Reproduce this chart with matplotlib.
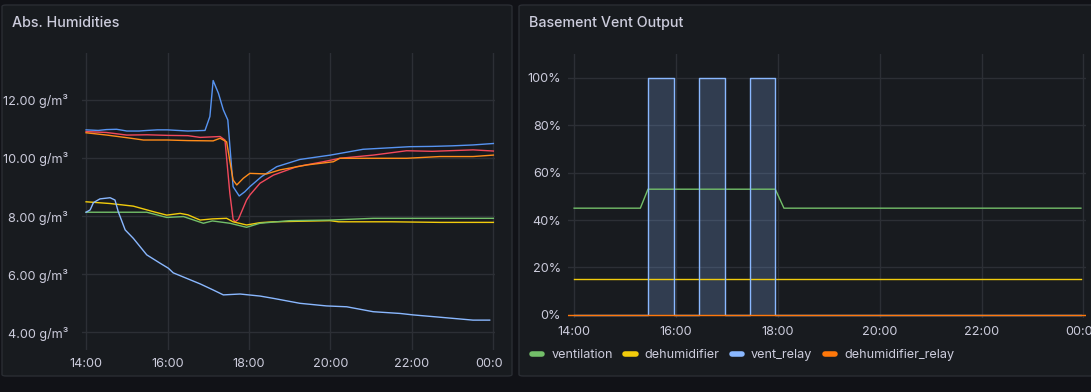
import matplotlib
matplotlib.use('Agg')
import matplotlib.pyplot as plt
from matplotlib.patches import FancyBboxPatch, Rectangle
from matplotlib.lines import Line2D

plt.rcParams['font.family'] = ['Inter', 'DejaVu Sans']

# ---- data (time in hours, 24 = midnight) ----
x_ticks = [14, 16, 18, 20, 22, 24]
x_labels = ['14:00', '16:00', '18:00', '20:00', '22:00', '00:00']

hum_y_ticks = [4, 6, 8, 10, 12]
hum_y_labels = ['4.00 g/m³', '6.00 g/m³', '8.00 g/m³', '10.00 g/m³', '12.00 g/m³']

blue_t = [14.0, 14.3, 14.5, 14.75, 15.0, 15.3, 15.5, 15.75, 16.0, 16.25, 16.5, 16.92, 17.04, 17.12,
          17.25, 17.37, 17.48, 17.61, 17.76, 17.9, 18.02, 18.31, 18.68, 19.25, 20.0, 20.8, 21.95,
          22.5, 23.0, 23.5, 24.0]
blue_v = [10.97, 10.95, 10.98, 10.99, 10.93, 10.93, 10.95, 10.97, 10.97, 10.95, 10.93, 10.95, 11.43,
          12.67, 12.23, 11.66, 11.31, 9.01, 8.69, 8.84, 9.01, 9.36, 9.70, 9.95, 10.10, 10.30, 10.39,
          10.40, 10.42, 10.45, 10.50]

red_t = [14.0, 14.5, 15.0, 15.5, 16.0, 16.5, 16.8, 17.29, 17.41, 17.53, 17.61, 17.66, 17.74, 17.94,
         18.02, 18.27, 18.6, 19.17, 19.82, 20.23, 21.05, 21.87, 22.5, 23.5, 24.0]
red_v = [10.91, 10.88, 10.79, 10.80, 10.78, 10.77, 10.71, 10.74, 10.62, 8.78, 7.89, 7.80, 7.89, 8.55,
         8.72, 9.13, 9.41, 9.70, 9.87, 9.99, 10.10, 10.25, 10.23, 10.28, 10.24]

orange_t = [14.0, 14.51, 15.0, 15.41, 16.0, 16.5, 17.12, 17.29, 17.45, 17.61, 17.70, 17.86, 18.02,
            18.43, 18.76, 19.42, 20.07, 20.23, 21.0, 21.87, 22.69, 23.5, 24.0]
orange_v = [10.87, 10.79, 10.70, 10.62, 10.62, 10.60, 10.59, 10.68, 10.56, 9.24, 9.07, 9.30, 9.47,
            9.45, 9.59, 9.76, 9.87, 9.99, 9.99, 9.99, 10.05, 10.05, 10.10]

yellow_t = [14.0, 14.59, 15.16, 15.65, 15.98, 16.31, 16.5, 16.8, 17.1, 17.45, 17.61, 17.94, 18.27,
            18.6, 19.99, 20.2, 21.5, 22.69, 24.0]
yellow_v = [8.49, 8.43, 8.34, 8.15, 8.03, 8.09, 8.04, 7.86, 7.90, 7.92, 7.80, 7.69, 7.77,
            7.80, 7.84, 7.80, 7.80, 7.78, 7.78]

green_t = [14.0, 15.49, 15.98, 16.39, 16.88, 17.1, 17.53, 17.94, 18.27, 19.0, 19.99, 21.05, 24.0]
green_v = [8.13, 8.13, 7.95, 7.98, 7.75, 7.83, 7.75, 7.61, 7.75, 7.84, 7.86, 7.92, 7.92]

lblue_t = [14.0, 14.1, 14.18, 14.34, 14.59, 14.71, 14.79, 14.96, 15.16, 15.49, 15.82, 16.02, 16.14,
           16.47, 16.80, 17.12, 17.37, 17.78, 18.27, 18.6, 19.25, 19.9, 20.4, 21.05, 21.71, 22.03,
           22.69, 23.5, 23.91]
lblue_v = [8.13, 8.21, 8.46, 8.59, 8.63, 8.55, 8.15, 7.52, 7.23, 6.66, 6.37, 6.20, 6.04,
           5.85, 5.66, 5.45, 5.28, 5.31, 5.24, 5.16, 4.99, 4.90, 4.87, 4.70, 4.64, 4.59,
           4.51, 4.41, 4.41]

pct_y_ticks = [0, 20, 40, 60, 80, 100]
pct_y_labels = ['0%', '20%', '40%', '60%', '80%', '100%']

ventilation_t = [14.0, 15.3, 15.45, 17.95, 18.12, 23.95]
ventilation_v = [45, 45, 53, 53, 45, 45]
dehumidifier_t = [14.0, 23.95]
dehumidifier_v = [15, 15]
vent_relay_t = [14.0, 15.45, 15.97, 16.45, 16.97, 17.45, 17.95, 23.95]
vent_relay_v = [0, 100, 0, 100, 0, 100, 0, 0]
dehum_relay_t = [13.88, 24.05]
dehum_relay_v = [0, 0]

# ---- style ----
PAGE = '#111217'
PANEL = '#181b1f'
BORDER = '#2a2d33'
GRID = '#2c2f35'
TEXT = '#ccccdc'

W, H = 1091, 392
fig = plt.figure(figsize=(W / 100, H / 100), dpi=100, facecolor=PAGE)


def px_rect(x0, y0, x1, y1):
    return [x0 / W, 1 - y1 / H, (x1 - x0) / W, (y1 - y0) / H]


# panels
for x0, x1, title in [(2, 512, 'Abs. Humidities'), (519, 1095, 'Basement Vent Output')]:
    fig.patches.append(FancyBboxPatch((x0 / W, 1 - 376 / H), (x1 - x0) / W, (376 - 5) / H,
                                      boxstyle='round,pad=0,rounding_size=0.004',
                                      transform=fig.transFigure, facecolor=PANEL,
                                      edgecolor=BORDER, linewidth=1, zorder=-5))
    fig.text((x0 + 10) / W, 1 - 23 / H, title, color=TEXT, fontsize=10.3,
             fontweight='medium', va='center', ha='left')


def style_axes(ax):
    ax.set_facecolor('none')
    for s in ax.spines.values():
        s.set_visible(False)
    ax.grid(True, color=GRID, linewidth=1)
    ax.tick_params(length=0, colors=TEXT, labelsize=9.1)
    ax.set_axisbelow(True)


# left: humidities
ax1 = fig.add_axes(px_rect(82, 53, 495, 350))
style_axes(ax1)
ax1.plot(blue_t, blue_v, color='#5794f2', lw=1)
ax1.plot(red_t, red_v, color='#f2495c', lw=1)
ax1.plot(orange_t, orange_v, color='#ff8c1a', lw=1)
ax1.plot(yellow_t, yellow_v, color='#f2cc0c', lw=1)
ax1.plot(green_t, green_v, color='#73bf69', lw=1)
ax1.plot(lblue_t, lblue_v, color='#8ab8ff', lw=1)
ax1.set_xlim(13.90, 24.04)
ax1.set_ylim(3.38, 13.62)
ax1.set_xticks(x_ticks, x_labels)
ax1.set_yticks(hum_y_ticks, hum_y_labels)
ax1.tick_params(axis='y', pad=10)
ax1.tick_params(axis='x', pad=6)

# clip last time label like the panel does
clip = Rectangle((0, 0), 502 / W, 1, transform=fig.transFigure, visible=False)
fig.add_artist(clip)
lbl = ax1.get_xticklabels()[-1]
lbl.set_clip_on(True)
lbl.set_clip_path(clip)

# right: vent output
ax2 = fig.add_axes(px_rect(568, 54, 1086, 318))
style_axes(ax2)
ax2.plot(ventilation_t, ventilation_v, color='#73bf69', lw=1, label='ventilation')
ax2.plot(dehumidifier_t, dehumidifier_v, color='#f2cc0c', lw=1, label='dehumidifier')
ax2.fill_between(vent_relay_t, vent_relay_v, step='post', color='#8ab8ff', alpha=0.22, lw=0)
ax2.step(vent_relay_t, vent_relay_v, where='post', color='#8ab8ff', lw=1, label='vent_relay')
ax2.plot(dehum_relay_t, dehum_relay_v, color='#ff780a', lw=1, label='dehumidifier_relay')
ax2.set_xlim(13.88, 24.05)
ax2.set_ylim(-1.3, 110)
ax2.set_xticks(x_ticks, x_labels)
ax2.set_yticks(pct_y_ticks, pct_y_labels)
ax2.tick_params(axis='y', pad=5)
ax2.tick_params(axis='x', pad=6)

handles = [Line2D([], [], color=c, lw=4, solid_capstyle='round')
           for c in ['#73bf69', '#f2cc0c', '#8ab8ff', '#ff780a']]
names = ['ventilation', 'dehumidifier', 'vent_relay', 'dehumidifier_relay']
leg = fig.legend(handles, names, loc='center left', bbox_to_anchor=(521 / W, 1 - 355 / H),
                 ncol=4, frameon=False, fontsize=9.1, handlelength=0.8, handletextpad=0.7,
                 columnspacing=1.0, labelcolor=TEXT)

fig.savefig('out.png', dpi=100, facecolor=PAGE)
